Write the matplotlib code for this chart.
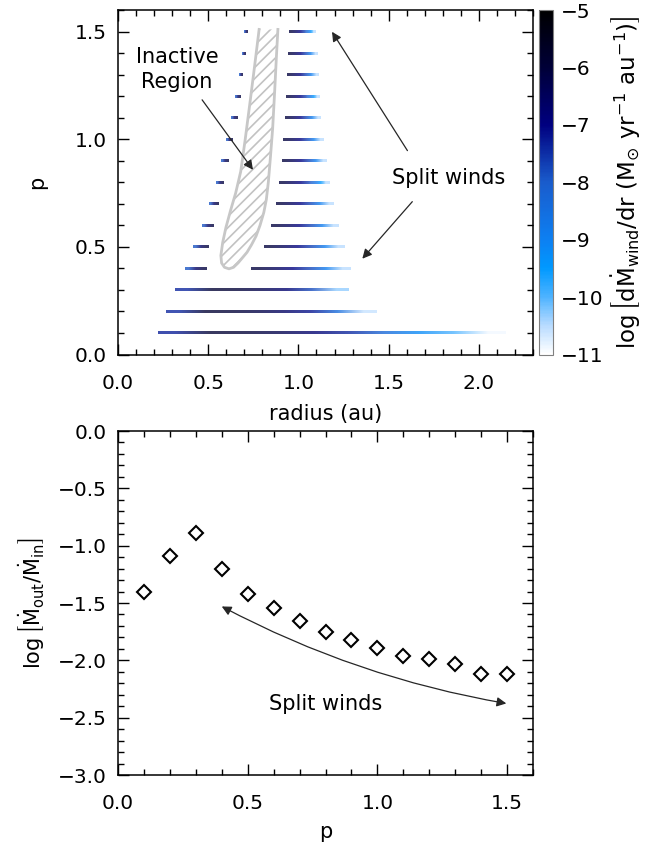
import numpy as np
import matplotlib.pyplot as plt
from matplotlib.colors import LinearSegmentedColormap, Normalize
from matplotlib.patches import Polygon
from matplotlib.ticker import MultipleLocator, FuncFormatter

plt.rcParams['font.family'] = 'DejaVu Sans'
plt.rcParams['mathtext.fontset'] = 'dejavusans'
plt.rcParams['hatch.linewidth'] = 1.2

# ---- top panel: wind mass-loss rate along radius for each p ----
p_full = [0.1, 0.2, 0.3]
full_r0 = [0.222, 0.265, 0.315]
full_r1 = [2.150, 1.430, 1.278]
full_vals = [
    [-7.3, -5.9, -6.0, -6.3, -6.8, -7.4, -8.3, -9.2, -10.0, -10.9],
    [-7.4, -5.9, -6.0, -6.2, -6.6, -7.2, -8.4, -10.6],
    [-7.4, -5.9, -6.0, -6.3, -6.8, -7.8, -10.3],
]

# split winds: inner and outer wind segments
p_split = [0.4, 0.5, 0.6, 0.7, 0.8, 0.9, 1.0, 1.1, 1.2, 1.3, 1.4, 1.5]
inner_r0 = [0.370, 0.417, 0.463, 0.506, 0.541, 0.570, 0.598, 0.624, 0.648, 0.670, 0.689, 0.700]
inner_r1 = [0.491, 0.504, 0.527, 0.556, 0.583, 0.611, 0.635, 0.658, 0.676, 0.690, 0.708, 0.720]
outer_r0 = [0.737, 0.811, 0.848, 0.876, 0.894, 0.908, 0.917, 0.926, 0.932, 0.935, 0.941, 0.945]
outer_r1 = [1.287, 1.259, 1.223, 1.194, 1.172, 1.154, 1.139, 1.124, 1.117, 1.108, 1.102, 1.093]
inner_vals = [-7.9, -6.6, -6.1]
outer_vals = [-6.1, -6.5, -7.0, -7.7, -8.9, -10.5]

# inactive (dead-zone) region outline in (radius, p)
inactive_r = [0.782, 0.757, 0.731, 0.705, 0.680, 0.652, 0.624, 0.598, 0.580, 0.570,
              0.574, 0.590, 0.615, 0.640, 0.665, 0.690, 0.715, 0.740, 0.765, 0.787,
              0.808, 0.822, 0.833, 0.845, 0.857, 0.868, 0.877, 0.886]
inactive_p = [1.510, 1.340, 1.168, 1.000, 0.850, 0.750, 0.670, 0.590, 0.520, 0.460,
              0.425, 0.405, 0.398, 0.405, 0.425, 0.450, 0.475, 0.510, 0.550, 0.600,
              0.660, 0.720, 0.800, 0.920, 1.050, 1.220, 1.370, 1.510]

# ---- bottom panel: total outflow fraction ----
p_vals = [0.1, 0.2, 0.3, 0.4, 0.5, 0.6, 0.7, 0.8, 0.9, 1.0, 1.1, 1.2, 1.3, 1.4, 1.5]
log_mdot_ratio = [-1.40, -1.09, -0.89, -1.20, -1.42, -1.54, -1.66, -1.75, -1.82,
                  -1.89, -1.96, -1.99, -2.03, -2.12, -2.12]

cbar_ticks = [-5, -6, -7, -8, -9, -10, -11]

cmap = LinearSegmentedColormap.from_list('wind', [
    (0.0, (1.0, 1.0, 1.0)),
    (0.0833, (0.72, 0.86, 1.0)),
    (0.1667, (0.30, 0.70, 1.0)),
    (0.25, (0.0, 0.60, 1.0)),
    (0.333, (0.05, 0.50, 0.95)),
    (0.5, (0.10, 0.36, 0.80)),
    (0.667, (0.0, 0.0, 0.50)),
    (0.833, (0.0, 0.0, 0.22)),
    (1.0, (0.0, 0.0, 0.0)),
])
norm = Normalize(vmin=-11, vmax=-5)

fig = plt.figure(figsize=(6.46, 8.51), dpi=100)
ax1 = fig.add_axes([0.1827, 0.5834, 0.6424, 0.4048])
cax = fig.add_axes([0.8336, 0.5834, 0.0225, 0.4048])
ax2 = fig.add_axes([0.1827, 0.0893, 0.6424, 0.4042])

half = 0.0065


def strip(ax, r0, r1, p, vals):
    return ax.imshow(np.array(vals, dtype=float)[None, :], extent=[r0, r1, p - half, p + half],
                     cmap=cmap, norm=norm, aspect='auto', interpolation='bilinear',
                     origin='lower', alpha=0.78, zorder=2)


for p, r0, r1, v in zip(p_full, full_r0, full_r1, full_vals):
    im = strip(ax1, r0, r1, p, v)
for i, p in enumerate(p_split):
    strip(ax1, inner_r0[i], inner_r1[i], p, inner_vals)
    strip(ax1, outer_r0[i], outer_r1[i], p, outer_vals)

verts = np.column_stack([inactive_r, inactive_p])
ax1.add_patch(Polygon(verts, closed=True, facecolor='none', edgecolor='0.76',
                      hatch='///', lw=0, zorder=3))
ax1.plot(inactive_r, inactive_p, color='0.78', lw=2.0, zorder=3)

arrow_kw = dict(arrowstyle='-|>', color='0.15', lw=0.9, mutation_scale=14,
                shrinkA=0, shrinkB=0)
ax1.text(0.327, 1.323, 'Inactive\nRegion', ha='center', va='center', fontsize=15,
         linespacing=1.3)
ax1.annotate('', xy=(0.748, 0.858), xytext=(0.466, 1.183), arrowprops=arrow_kw)
ax1.text(1.832, 0.821, 'Split winds', ha='center', va='center', fontsize=15)
ax1.annotate('', xy=(1.186, 1.499), xytext=(1.604, 0.947), arrowprops=arrow_kw)
ax1.annotate('', xy=(1.354, 0.445), xytext=(1.631, 0.710), arrowprops=arrow_kw)

ax1.set_xlim(0, 2.3)
ax1.set_ylim(0, 1.6)
ax1.set_xlabel('radius (au)', fontsize=15, labelpad=8)
ax1.set_ylabel('p', fontsize=15, labelpad=20)

fmt = FuncFormatter(lambda x, pos: f'{x:.1f}'.replace('-', '\u2212'))
for ax in (ax1, ax2):
    ax.tick_params(which='both', direction='in', top=True, right=True, labelsize=14.5)
    ax.tick_params(which='major', length=8, width=1.0)
    ax.tick_params(which='minor', length=4, width=1.0)
    ax.tick_params(axis='x', which='major', pad=14)
    ax.tick_params(axis='y', which='major', pad=8)
    ax.xaxis.set_major_locator(MultipleLocator(0.5))
    ax.xaxis.set_minor_locator(MultipleLocator(0.1))
    ax.yaxis.set_major_locator(MultipleLocator(0.5))
    ax.yaxis.set_minor_locator(MultipleLocator(0.1))
    ax.xaxis.set_major_formatter(fmt)
    ax.yaxis.set_major_formatter(fmt)
    for s in ax.spines.values():
        s.set_linewidth(1.1)

cb = fig.colorbar(im, cax=cax)
cb.solids.set_alpha(1.0)
cb.set_ticks(cbar_ticks)
cb.ax.set_yticklabels([f'{t}'.replace('-', '\u2212') for t in cbar_ticks])
cb.ax.tick_params(length=0, labelsize=14.5, pad=6)
cb.outline.set_edgecolor('0.5')
cb.outline.set_linewidth(0.8)
cb.set_label(r'$\log\left[\mathrm{d}\dot{\mathrm{M}}_{\mathrm{wind}}/\mathrm{dr}\ '
             r'(\mathrm{M}_{\odot}\ \mathrm{yr}^{-1}\ \mathrm{au}^{-1})\right]$',
             fontsize=16.5, labelpad=4)

# bottom panel
ax2.plot(p_vals, log_mdot_ratio, linestyle='none', marker='D', ms=7, mfc='white',
         mec='black', mew=1.5)
ax2.text(0.80, -2.38, 'Split winds', ha='center', va='center', fontsize=15)
ax2.annotate('', xy=(0.40, -1.53), xytext=(1.497, -2.376),
             arrowprops=dict(arrowstyle='<|-|>', color='0.15', lw=0.9, mutation_scale=14,
                             shrinkA=0, shrinkB=0, connectionstyle='arc3,rad=-0.08'))
ax2.set_xlim(0, 1.6)
ax2.set_ylim(-3.0, 0.0)
ax2.set_xlabel('p', fontsize=15, labelpad=6)
ax2.set_ylabel(r'$\log\left[\dot{\mathrm{M}}_{\mathrm{out}}/\dot{\mathrm{M}}_{\mathrm{in}}\right]$',
               fontsize=15, labelpad=8)

fig.savefig('out.png', dpi=100)
